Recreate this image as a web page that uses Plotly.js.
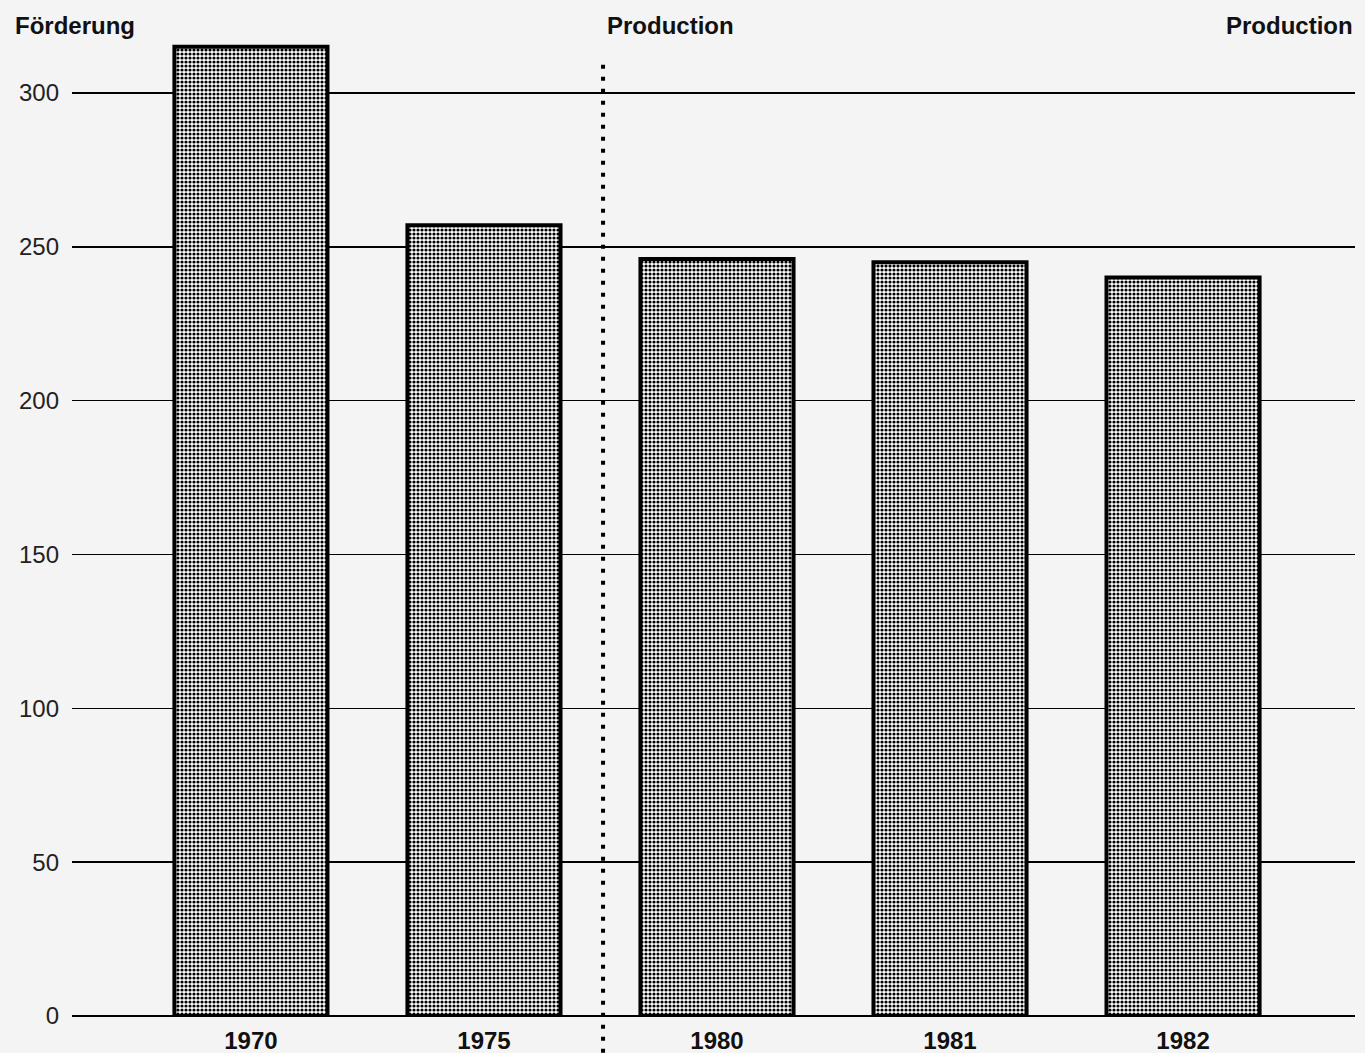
<!DOCTYPE html>
<html>
<head>
<meta charset="utf-8">
<script src="https://cdn.plot.ly/plotly-3.0.1.min.js"></script>
<style>html,body{margin:0;padding:0;background:#f4f4f4;}#chart{width:1365px;height:1053px;}</style>
</head>
<body>
<div id="chart"></div>
<script>
const years = ['1970', '1975', '1980', '1981', '1982'];
const production = [315, 257, 246, 245, 240];
const yTicks = [0, 50, 100, 150, 200, 250, 300];
const yTitle = 'Förderung';
const sectionLabel = 'Production';

const xIdx = years.map((_, i) => i);

const trace = {
  type: 'bar',
  x: xIdx,
  y: production,
  width: 0.657,
  marker: {
    color: '#ffffff',
    pattern: { shape: '.', fgcolor: '#000000', bgcolor: '#ffffff', size: 4, solidity: 0.5 },
    line: { color: '#000000', width: 4 }
  },
  hoverinfo: 'x+y'
};

const layout = {
  width: 1365,
  height: 1053,
  margin: { l: 72, r: 10, t: 40, b: 37 },
  paper_bgcolor: '#f4f4f4',
  plot_bgcolor: '#f4f4f4',
  showlegend: false,
  bargap: 0,
  font: { family: 'Liberation Sans, Arial, sans-serif', color: '#111' },
  xaxis: {
    range: [-0.768, 4.738],
    tickmode: 'array',
    tickvals: xIdx,
    ticktext: years.map(y => '<b>' + y + '</b>'),
    tickfont: { size: 24, color: '#111' },
    showgrid: false,
    zeroline: false,
    showline: false,
    ticks: '',
    ticklen: 0,
    ticklabelstandoff: 8
  },
  yaxis: {
    range: [0, 317.2],
    tickmode: 'array',
    tickvals: yTicks,
    ticktext: yTicks.map(String),
    tickfont: { size: 24, color: '#222' },
    showgrid: true,
    gridcolor: '#000000',
    gridwidth: 1.6,
    zeroline: true,
    zerolinecolor: '#000000',
    zerolinewidth: 2,
    showline: false,
    ticks: '',
    ticklabelstandoff: 12,
    automargin: false
  },
  shapes: [
    {
      type: 'line', xref: 'x', yref: 'paper',
      x0: 1.511, x1: 1.511, y0: -0.05, y1: 0.975,
      line: { color: '#000000', width: 4, dash: '4px,8px' },
      layer: 'above'
    }
  ],
  annotations: [
    { xref: 'paper', yref: 'paper', x: -0.046, y: 1.015, xanchor: 'left', yanchor: 'middle',
      text: '<b>' + yTitle + '</b>', showarrow: false, font: { size: 24, color: '#111' } },
    { xref: 'x', yref: 'paper', x: 1.52, y: 1.015, xanchor: 'left', yanchor: 'middle',
      text: '<b>' + sectionLabel + '</b>', showarrow: false, font: { size: 24, color: '#111' } },
    { xref: 'paper', yref: 'paper', x: 1.0, y: 1.015, xanchor: 'right', yanchor: 'middle',
      text: '<b>' + sectionLabel + '</b>', showarrow: false, font: { size: 24, color: '#111' } }
  ]
};

Plotly.newPlot('chart', [trace], layout, { displayModeBar: false, staticPlot: true });
</script>
</body>
</html>
